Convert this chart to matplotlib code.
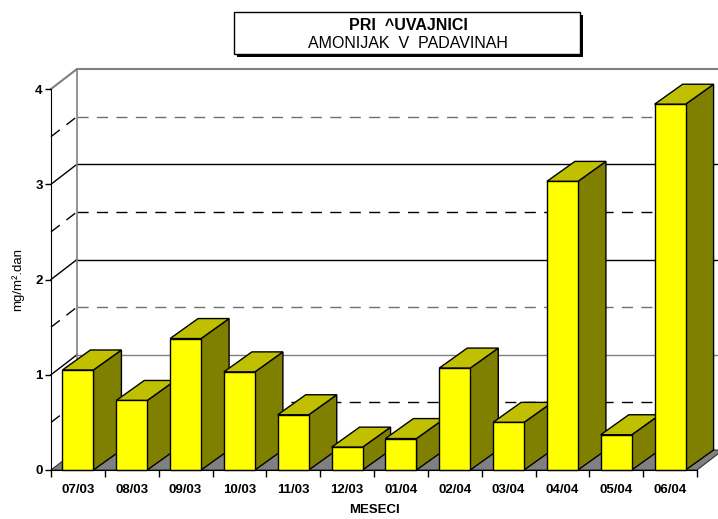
import numpy as np
import matplotlib.pyplot as plt
from matplotlib.patches import Polygon, Rectangle

plt.rcParams['font.family'] = ['Liberation Sans', 'DejaVu Sans']

# podatki
meseci = ['07/03', '08/03', '09/03', '10/03', '11/03', '12/03',
          '01/04', '02/04', '03/04', '04/04', '05/04', '06/04']
amonijak = [1.05, 0.73, 1.38, 1.03, 0.58, 0.24, 0.33, 1.07, 0.50, 3.03, 0.37, 3.84]
yticks = [0, 1, 2, 3, 4]

W, H = 718, 519
fig = plt.figure(figsize=(W / 100, H / 100), dpi=100)
ax = fig.add_axes([51 / W, 49 / H, 646 / W, 381 / H])
n = len(meseci)
ymax = 4
ax.set_xlim(0, n)
ax.set_ylim(0, ymax)

# globina (v enotah osi)
px_x = 646 / n
px_y = 381 / ymax
dx = 26 / px_x
dy = 20 / px_y
bdx = 28 / px_x
bdy = 20 / px_y
bw = 31 / px_x

# zadnja stena in stranska stena
for v in [1, 2, 3]:
    c = '#808080' if v == 1 else 'black'
    ax.plot([dx, n + dx + 1], [v + dy, v + dy], color=c, lw=1, clip_on=False, zorder=1)
    ax.plot([0, dx], [v, v + dy], color='black', lw=1, clip_on=False, zorder=1)
for v in [0.5, 1.5, 2.5, 3.5]:
    c = 'black' if v in (0.5, 2.5) else '#707070'
    ax.plot([dx, n + dx + 1], [v + dy, v + dy], color=c, lw=1, ls=(0, (8, 6)),
            clip_on=False, zorder=1)
    ax.plot([0, dx], [v, v + dy], color='black', lw=1, ls=(0, (8, 6)),
            clip_on=False, zorder=1)
ax.plot([0, dx, n + dx + 1], [ymax, ymax + dy, ymax + dy], color='#808080', lw=1.5,
        clip_on=False, zorder=1)
ax.plot([dx, dx], [dy, ymax + dy], color='#808080', lw=1.2, clip_on=False, zorder=1)

# tla
floor = Polygon([(0, 0), (n, 0), (n + dx, dy), (dx, dy)], closed=True,
                facecolor='#808080', edgecolor='#303030', lw=0.8, clip_on=False, zorder=2)
ax.add_patch(floor)

# stolpci
for i, v in enumerate(amonijak):
    x0 = i + 0.5 - bw / 2
    z = 3 + i
    side = Polygon([(x0 + bw, 0), (x0 + bw, v), (x0 + bw + bdx, v + bdy), (x0 + bw + bdx, bdy)],
                   closed=True, facecolor='#808000', edgecolor='black', lw=1, clip_on=False, zorder=z)
    top = Polygon([(x0, v), (x0 + bw, v), (x0 + bw + bdx, v + bdy), (x0 + bdx, v + bdy)],
                  closed=True, facecolor='#C0C000', edgecolor='black', lw=1, clip_on=False, zorder=z)
    front = Rectangle((x0, 0), bw, v, facecolor='#FFFF00', edgecolor='black', lw=1,
                      clip_on=False, zorder=z)
    ax.add_patch(side)
    ax.add_patch(top)
    ax.add_patch(front)

# osi
for s in ['top', 'right']:
    ax.spines[s].set_visible(False)
ax.spines['left'].set_zorder(20)
ax.spines['bottom'].set_zorder(20)
ax.patch.set_visible(False)

ax.set_yticks(yticks)
ax.set_yticklabels([str(t) for t in yticks], fontweight='bold', fontsize=9.5)
ax.tick_params(axis='y', direction='out', length=4, width=1, pad=2)

ax.set_xticks(np.arange(n + 1))
ax.set_xticklabels([])
ax.set_xticks(np.arange(n) + 0.5, minor=True)
ax.set_xticklabels(meseci, minor=True, fontweight='bold', fontsize=9.5)
ax.tick_params(axis='x', which='major', direction='out', length=5, width=1)
ax.tick_params(axis='x', which='minor', length=0, pad=10)

ax.set_ylabel('mg/m².dan', fontsize=9.5, va='center')
ax.yaxis.set_label_coords(-0.052, 0.5)
ax.set_xlabel('MESECI', fontweight='bold', fontsize=9.5, va='center')
ax.xaxis.set_label_coords(0.5, -0.105)

# naslov v okvirju
shadow = Rectangle((237 / W, 1 - 57 / H), 346 / W, 42 / H, transform=fig.transFigure,
                   facecolor='black', edgecolor='none', zorder=30)
box = Rectangle((234 / W, 1 - 54 / H), 346 / W, 42 / H, transform=fig.transFigure,
                facecolor='white', edgecolor='black', lw=1, zorder=31)
fig.patches.extend([shadow, box])
fig.text(408 / W, 1 - 26 / H, 'PRI  ^UVAJNICI', ha='center', va='center',
         fontsize=11.5, fontweight='bold', zorder=32)
fig.text(408 / W, 1 - 43 / H, 'AMONIJAK  V  PADAVINAH', ha='center', va='center',
         fontsize=11.5, zorder=32)

fig.savefig('out.png', dpi=100)
